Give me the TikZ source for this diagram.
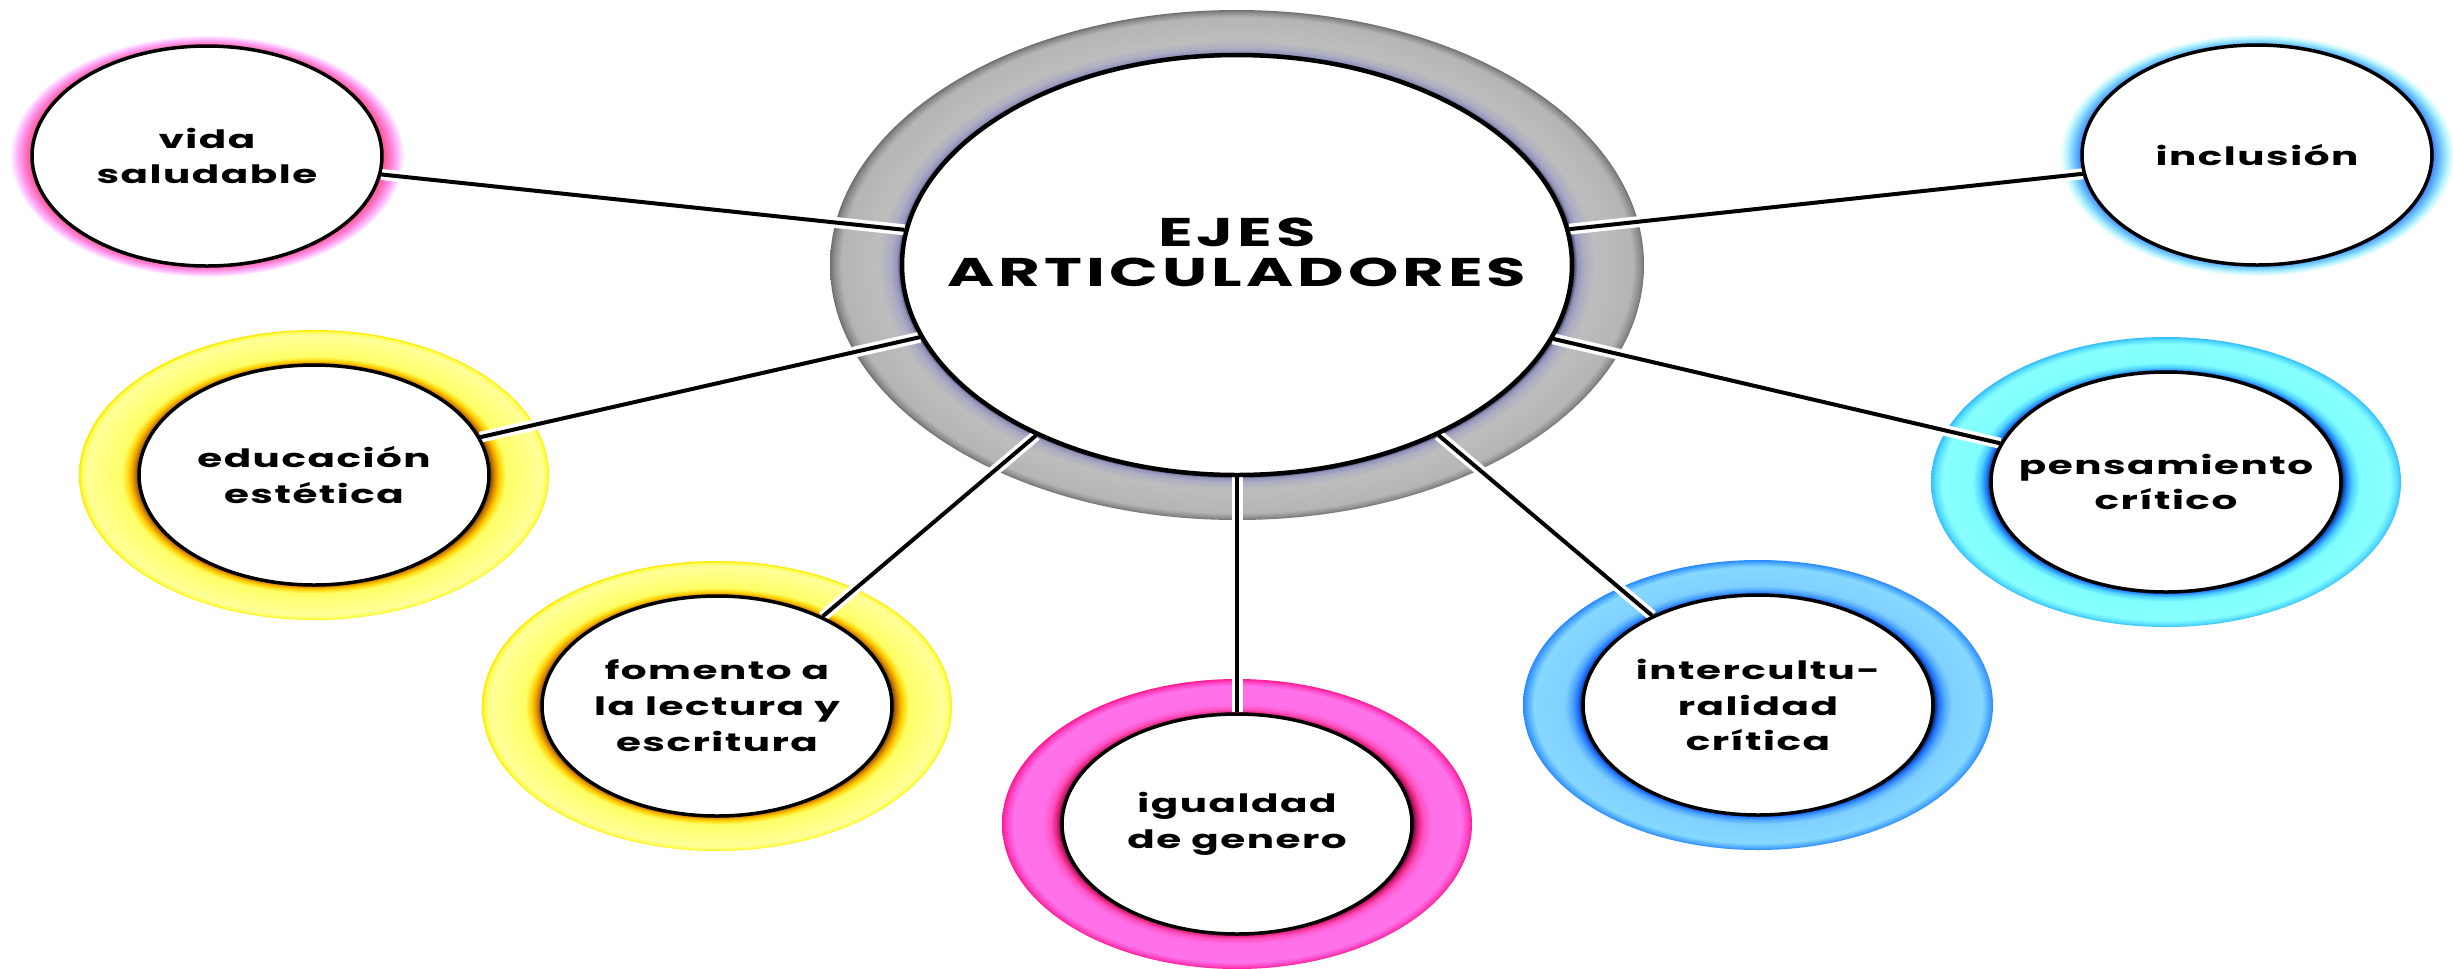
\documentclass[tikz,border=0pt]{standalone}
\usepackage{fontspec}
\setmainfont{Poppins}[FakeStretch=1.6, LetterSpace=6]
\usetikzlibrary{shapes.geometric, backgrounds}

% colores de los aros
\definecolor{gA}{HTML}{2E2E48}
\definecolor{gB}{HTML}{9494BC}
\definecolor{gC}{HTML}{ADADC2}
\definecolor{gD}{HTML}{BDBDBD}
\definecolor{gE}{HTML}{B5B5B5}
\definecolor{gF}{HTML}{8A8A8A}
\definecolor{gG}{HTML}{6E6E6E}
\definecolor{y1}{HTML}{5A3A00}
\definecolor{y2}{HTML}{E08A00}
\definecolor{y3}{HTML}{FFD000}
\definecolor{y4}{HTML}{FFFF66}
\definecolor{y5}{HTML}{FFFF99}
\definecolor{y6}{HTML}{FFFF55}
\definecolor{y7}{HTML}{FFE800}
\definecolor{p1}{HTML}{4A0030}
\definecolor{p2}{HTML}{E0207A}
\definecolor{p3}{HTML}{FF4FC0}
\definecolor{p4}{HTML}{FF6EE6}
\definecolor{p5}{HTML}{FF72EA}
\definecolor{p6}{HTML}{FF40C0}
\definecolor{p7}{HTML}{FF1A90}
\definecolor{b1}{HTML}{001540}
\definecolor{b2}{HTML}{1F6FFF}
\definecolor{b3}{HTML}{4FA8FF}
\definecolor{b4}{HTML}{80D0FF}
\definecolor{b5}{HTML}{85D8FF}
\definecolor{b6}{HTML}{4AA8FF}
\definecolor{b7}{HTML}{2A88FF}
\definecolor{c1}{HTML}{001A40}
\definecolor{c2}{HTML}{1F7FFF}
\definecolor{c3}{HTML}{4FD0FF}
\definecolor{c4}{HTML}{80FFFF}
\definecolor{c5}{HTML}{88FFFF}
\definecolor{c6}{HTML}{55DDFF}
\definecolor{c7}{HTML}{33BBFF}
\definecolor{h1}{HTML}{FF4F90}
\definecolor{h2}{HTML}{FF7FD0}
\definecolor{h3}{HTML}{FFB8FF}
\definecolor{k1}{HTML}{3F7FFF}
\definecolor{k2}{HTML}{70C8FF}
\definecolor{k3}{HTML}{B8F4FF}

\pgfdeclareradialshading{aroGris}{\pgfpointorigin}{color(0bp)=(white); color(20.5bp)=(white);
  color(20.6bp)=(gA); color(20.9bp)=(gB); color(21.3bp)=(gC); color(22bp)=(gD);
  color(24.3bp)=(gE); color(24.8bp)=(gF); color(25bp)=(gG); color(50bp)=(white)}
\pgfdeclareradialshading{aroAmarillo}{\pgfpointorigin}{color(0bp)=(white); color(18.4bp)=(white);
  color(18.6bp)=(y1); color(19.2bp)=(y2); color(19.7bp)=(y3); color(20.4bp)=(y4);
  color(24.2bp)=(y5); color(24.7bp)=(y6); color(25bp)=(y7); color(50bp)=(white)}
\pgfdeclareradialshading{aroRosa}{\pgfpointorigin}{color(0bp)=(white); color(18.4bp)=(white);
  color(18.6bp)=(p1); color(19.2bp)=(p2); color(19.8bp)=(p3); color(20.6bp)=(p4);
  color(23.8bp)=(p5); color(24.6bp)=(p6); color(25bp)=(p7); color(50bp)=(white)}
\pgfdeclareradialshading{aroAzul}{\pgfpointorigin}{color(0bp)=(white); color(18.4bp)=(white);
  color(18.6bp)=(b1); color(19.2bp)=(b2); color(19.8bp)=(b3); color(20.6bp)=(b4);
  color(23.8bp)=(b5); color(24.6bp)=(b6); color(25bp)=(b7); color(50bp)=(white)}
\pgfdeclareradialshading{aroCian}{\pgfpointorigin}{color(0bp)=(white); color(18.4bp)=(white);
  color(18.6bp)=(c1); color(19.2bp)=(c2); color(19.8bp)=(c3); color(20.6bp)=(c4);
  color(23.8bp)=(c5); color(24.6bp)=(c6); color(25bp)=(c7); color(50bp)=(white)}
\pgfdeclareradialshading{haloRosa}{\pgfpointorigin}{color(0bp)=(white); color(22bp)=(white);
  color(22.3bp)=(h1); color(23.3bp)=(h2); color(24.2bp)=(h3); color(25bp)=(white); color(50bp)=(white)}
\pgfdeclareradialshading{haloAzul}{\pgfpointorigin}{color(0bp)=(white); color(22bp)=(white);
  color(22.3bp)=(k1); color(23.3bp)=(k2); color(24.2bp)=(k3); color(25bp)=(white); color(50bp)=(white)}

\tikzset{
  eje/.style = {ellipse, draw, line width=0.35mm, fill=white, inner sep=0pt, inner xsep=-8mm,
                minimum width=35mm, minimum height=22mm, align=center,
                font=\fontsize{7.2}{10.2}\selectfont\bfseries},
  aro/.style = {ellipse, minimum width=47mm, minimum height=29mm, shading=#1},
  halo/.style = {ellipse, minimum width=39.4mm, minimum height=24.2mm, shading=#1},
  enlace/.style = {line width=0.4mm, preaction={draw=white, line width=1.1mm}},
}

\begin{document}
\begin{tikzpicture}[x=0.1mm, y=-0.1mm]
  \useasboundingbox (0,0) rectangle (2453,968);

  \node[eje, line width=0.45mm, minimum width=67mm, minimum height=42mm, text depth=2.6mm,
        font=\fontsize{11.4}{11.4}\selectfont\bfseries\addfontfeature{LetterSpace=10}]
        (centro) at (1237,265) {EJES\\ARTICULADORES};
  \node[eje] (vida) at (207,156) {vida\\saludable};
  \node[eje] (educacion) at (314,475) {educación\\estética};
  \node[eje] (fomento) at (717,706) {fomento a\\la lectura y\\escritura};
  \node[eje] (igualdad) at (1237,824) {igualdad\\de genero};
  \node[eje] (intercultura) at (1758,705) {intercultu-\\ralidad\\crítica};
  \node[eje] (pensamiento) at (2166,482) {pensamiento\\crítico};
  \node[eje] (inclusion) at (2257,155) {inclusión};

  \begin{scope}[on background layer]
    \node[aro=aroGris, minimum width=81.4mm, minimum height=51mm] at (centro) {};
    \node[halo=haloRosa] at (vida) {};
    \node[aro=aroAmarillo] at (educacion) {};
    \node[aro=aroAmarillo] at (fomento) {};
    \node[aro=aroRosa] at (igualdad) {};
    \node[aro=aroAzul] at (intercultura) {};
    \node[aro=aroCian] at (pensamiento) {};
    \node[halo=haloAzul] at (inclusion) {};

    \draw[enlace] (centro) -- (vida);
    \draw[enlace] (centro) -- (educacion);
    \draw[enlace] (centro) -- (fomento);
    \draw[enlace] (centro) -- (igualdad);
    \draw[enlace] (centro) -- (intercultura);
    \draw[enlace] (centro) -- (pensamiento);
    \draw[enlace] (centro) -- (inclusion);
  \end{scope}
\end{tikzpicture}
\end{document}
